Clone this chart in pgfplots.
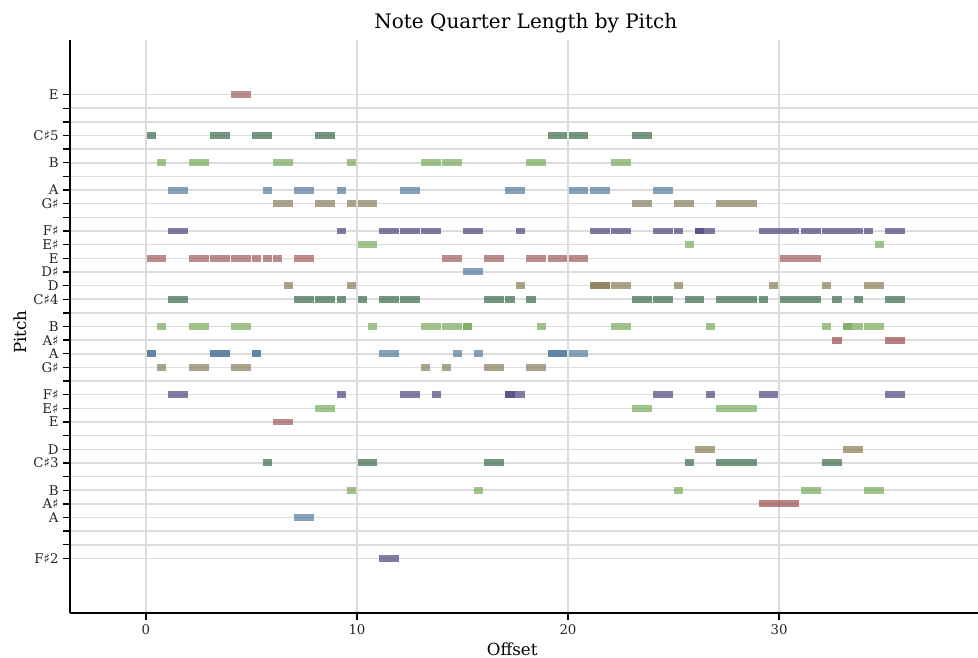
\documentclass[border=0pt]{standalone}
\usepackage{pgfplots}
\usepackage{pgfplotstable}
\pgfplotsset{compat=1.18}
\usepackage{fontspec}
\setmainfont{DejaVu Serif}
\newfontfamily\symf{DejaVu Sans}
\newcommand{\sh}{{\symf\char"266F}}

\definecolor{cE}{RGB}{159,91,91}
\definecolor{cCs}{RGB}{59,105,74}
\definecolor{cB}{RGB}{119,169,91}
\definecolor{cA}{RGB}{84,122,155}
\definecolor{cGs}{RGB}{134,126,91}
\definecolor{cFs}{RGB}{76,69,126}
\definecolor{cEs}{RGB}{119,172,91}
\definecolor{cDs}{RGB}{84,122,162}
\definecolor{cD}{RGB}{136,122,84}
\definecolor{cAs}{RGB}{155,76,76}
\definecolor{gridc}{RGB}{220,220,220}

% start, pitch (MIDI), length
\pgfplotstableread{
s p l
4 76 1
0 64 1
2 64 1
3 64 1
4 64 1
5 64 0.5
5.5 64 0.5
6 64 0.5
7 64 1
14 64 1
16 64 1
18 64 1
19 64 1
20 64 1
30 64 2
6 52 1
}\tE
\pgfplotstableread{
s p l
0 73 0.5
3 73 1
5 73 1
8 73 1
19 73 1
20 73 1
23 73 1
1 61 1
7 61 1
8 61 1
9 61 0.5
10 61 0.5
11 61 1
12 61 1
16 61 1
17 61 0.5
18 61 0.5
23 61 1
24 61 1
25.5 61 1
27 61 2
29 61 0.5
30 61 2
32.5 61 0.5
33.5 61 0.5
35 61 1
5.5 49 0.5
10 49 1
16 49 1
25.5 49 0.5
27 49 2
32 49 1
}\tCs
\pgfplotstableread{
s p l
0.5 71 0.5
2 71 1
6 71 1
9.5 71 0.5
13 71 1
14 71 1
18 71 1
22 71 1
0.5 59 0.5
2 59 1
4 59 1
10.5 59 0.5
13 59 1
14 59 1
15 59 0.5
15 59 0.5
18.5 59 0.5
22 59 1
26.5 59 0.5
32 59 0.5
33 59 1
33 59 0.5
34 59 1
9.5 47 0.5
15.5 47 0.5
25 47 0.5
31 47 1
34 47 1
}\tB
\pgfplotstableread{
s p l
1 69 1
5.5 69 0.5
7 69 1
9 69 0.5
12 69 1
17 69 1
20 69 1
21 69 1
24 69 1
0 57 0.5
0 57 0.5
3 57 1
3 57 1
5 57 0.5
5 57 0.5
11 57 1
14.5 57 0.5
15.5 57 0.5
19 57 1
19 57 1
20 57 1
7 45 1
}\tA
\pgfplotstableread{
s p l
6 68 1
8 68 1
9.5 68 0.5
10 68 1
23 68 1
25 68 1
27 68 2
0.5 56 0.5
2 56 1
4 56 1
13 56 0.5
14 56 0.5
16 56 1
18 56 1
}\tGs
\pgfplotstableread{
s p l
1 66 1
9 66 0.5
11 66 1
12 66 1
13 66 1
15 66 1
17.5 66 0.5
21 66 1
22 66 1
24 66 1
25 66 0.5
26 66 1
26 66 0.5
29 66 2
31 66 1
32 66 2
34 66 0.5
35 66 1
1 54 1
9 54 0.5
12 54 1
13.5 54 0.5
17 54 1
17 54 0.5
24 54 1
26.5 54 0.5
29 54 1
35 54 1
11 42 1
}\tFs
\pgfplotstableread{
s p l
10 65 1
25.5 65 0.5
34.5 65 0.5
8 53 1
23 53 1
27 53 2
}\tEs
\pgfplotstableread{
s p l
15 63 1
}\tDs
\pgfplotstableread{
s p l
6.5 62 0.5
9.5 62 0.5
17.5 62 0.5
21 62 1
21 62 1
22 62 1
25 62 0.5
29.5 62 0.5
32 62 0.5
34 62 1
26 50 1
33 50 1
}\tD
\pgfplotstableread{
s p l
32.5 58 0.5
35 58 1
29 46 2
}\tAs

\pgfplotsset{
  notes/.style={draw=none, mark=none,
    error bars/.cd, x dir=plus, x explicit, error mark=none,
    error bar style={draw=#1, draw opacity=0.7, line width=5.2pt,
      shorten <=0.5pt, shorten >=0.5pt}}
}

\begin{document}
\begin{tikzpicture}
\useasboundingbox (-52.5pt,-33pt) rectangle (681pt,459.75pt);
\begin{axis}[
  scale only axis,
  width=681pt, height=429.75pt,
  at={(0,0)}, anchor=south west,
  xmin=-3.6, xmax=39.43,
  ymin=38, ymax=80,
  axis lines*=left,
  axis line style={-, line width=1.1pt, black},
  xtick={0,10,20,30},
  ytick={42,...,76},
  yticklabels={F\sh2,{},{},A,A\sh,B,{},C\sh3,D,{},E,E\sh,F\sh,{},G\sh,A,A\sh,B,{},C\sh4,D,D\sh,E,E\sh,F\sh,{},G\sh,A,{},B,{},C\sh5,{},{},E},
  tick align=outside,
  major tick length=5pt,
  tick style={line width=1pt, black},
  xmajorgrids, ymajorgrids,
  grid style={gridc, line width=1.1pt},
  /pgf/number format/assume math mode=true,
  tick label style={font=\fontsize{10}{12}\selectfont, text=black!85},
  title={Note Quarter Length by Pitch},
  title style={font=\fontsize{15}{18}\selectfont, at={(axis description cs:0.502,1)}, anchor=south, yshift=-4pt},
  xlabel={Offset},
  xlabel style={font=\fontsize{12.5}{14}\selectfont, at={(axis description cs:0.487,0)}, anchor=north, yshift=-18.5pt},
  ylabel={Pitch},
  ylabel style={font=\fontsize{12.5}{14}\selectfont, at={(axis description cs:-0.0551,0.49)}, anchor=center},
]
\addplot[notes=cE] table[x=s, y=p, x error=l] {\tE};
\addplot[notes=cCs] table[x=s, y=p, x error=l] {\tCs};
\addplot[notes=cB] table[x=s, y=p, x error=l] {\tB};
\addplot[notes=cA] table[x=s, y=p, x error=l] {\tA};
\addplot[notes=cGs] table[x=s, y=p, x error=l] {\tGs};
\addplot[notes=cFs] table[x=s, y=p, x error=l] {\tFs};
\addplot[notes=cEs] table[x=s, y=p, x error=l] {\tEs};
\addplot[notes=cDs] table[x=s, y=p, x error=l] {\tDs};
\addplot[notes=cD] table[x=s, y=p, x error=l] {\tD};
\addplot[notes=cAs] table[x=s, y=p, x error=l] {\tAs};
\end{axis}
\end{tikzpicture}
\end{document}
